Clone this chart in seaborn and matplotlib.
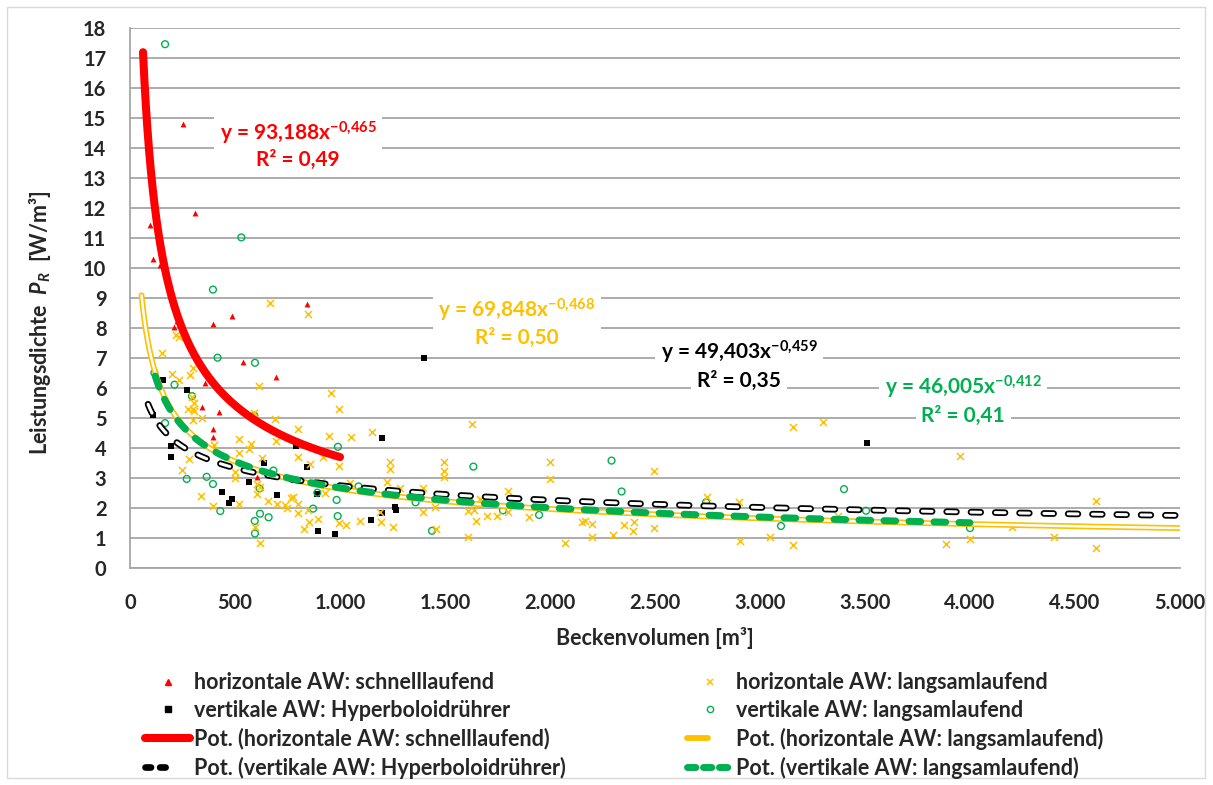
import numpy as np
import matplotlib
matplotlib.use("Agg")
import matplotlib.pyplot as plt
import seaborn as sns
from matplotlib.lines import Line2D
from matplotlib.legend_handler import HandlerTuple
from matplotlib.patches import Rectangle

# ---------------- data ----------------
hs_x = [97, 110, 144, 210, 222, 250, 310, 344, 357, 397, 397, 397, 422, 486, 540, 603, 694, 841]
hs_y = [11.44, 10.29, 10.1, 8.05, 8.24, 14.8, 11.85, 5.38, 6.16, 8.14, 4.63, 4.38, 5.2, 8.39, 6.86, 3.05, 6.37, 8.8]

vh_x = [111, 155, 195, 195, 273, 440, 473, 484, 568, 640, 698, 790, 841, 892, 897, 978, 1146, 1201, 1201, 1263, 1267, 1401, 3508]
vh_y = [5.1, 6.27, 4.07, 3.69, 5.93, 2.52, 2.16, 2.29, 2.86, 3.49, 2.42, 4.07, 3.38, 2.47, 1.22, 1.13, 1.6, 4.32, 1.82, 2.03, 1.93, 7.0, 4.16]

vl_x = [167, 530, 395, 417, 595, 116, 212, 295, 592, 167, 270, 365, 395, 617, 683, 430, 619, 660, 594, 595,
        990, 892, 984, 989, 872, 1088, 1635, 1360, 1438, 1776, 1948, 2293, 2341, 3400, 2743, 3100, 3505, 4000]
vl_y = [17.46, 11.02, 9.28, 7.01, 6.84, 6.51, 6.11, 5.73, 5.08, 4.83, 2.97, 3.04, 2.8, 2.65, 3.25, 1.9, 1.81, 1.69, 1.57, 1.15,
        4.04, 2.51, 2.27, 1.73, 1.98, 2.72, 3.38, 2.19, 1.24, 1.92, 1.77, 3.58, 2.55, 2.63, 2.19, 1.4, 1.91, 1.33]

hl_x = [665, 847, 218, 235, 152, 199, 231, 288, 299, 612, 955, 995, 294, 306, 275, 302, 306, 301, 342, 590,
        690, 802, 948, 1050, 1154, 1627, 695, 520, 575, 568, 519, 401, 281, 248, 336, 394, 518, 500, 501, 630,
        802, 855, 921, 995, 603, 603, 620, 659, 698, 740, 749, 765, 778, 802, 802, 849, 829, 854, 896, 930,
        910, 594, 619, 997, 1028, 1095, 1197, 1250, 1048, 1286, 1190, 1236, 1240, 1225, 1393, 1497, 1497, 1497, 1457, 1397,
        1453, 1611, 1648, 1611, 1640, 1698, 1748, 1667, 1798, 1798, 1899, 2000, 2000, 2070, 2153, 2165, 2198, 2198, 2300, 2352,
        2398, 2397, 2497, 2497, 2746, 2900, 2903, 3047, 3155, 3300, 3156, 3373, 3887, 3950, 4000, 4200, 4400, 4600, 4600]
hl_y = [8.82, 8.46, 7.77, 7.7, 7.18, 6.48, 6.27, 6.43, 6.68, 6.07, 5.82, 5.31, 5.71, 5.51, 5.29, 5.3, 5.23, 4.95, 4.99, 5.17,
        4.96, 4.62, 4.41, 4.37, 4.54, 4.79, 4.24, 4.3, 4.13, 3.97, 3.84, 4.1, 3.63, 3.27, 2.41, 2.07, 2.15, 3.01, 3.21, 3.66,
        3.71, 3.48, 3.71, 3.41, 2.79, 2.48, 2.71, 2.23, 2.14, 2.1, 1.99, 2.35, 2.38, 2.13, 1.82, 1.93, 1.31, 1.54, 1.64, 2.49,
        2.87, 1.38, 0.83, 1.49, 1.43, 1.58, 1.53, 1.36, 2.82, 2.66, 1.88, 3.29, 3.55, 2.88, 2.68, 3.54, 3.22, 3.05, 1.29, 1.86,
        2.02, 1.05, 1.58, 1.91, 1.95, 1.72, 1.72, 2.29, 2.56, 1.86, 1.7, 3.54, 2.96, 0.82, 1.52, 1.56, 1.48, 1.03, 1.1, 1.44,
        1.53, 1.24, 1.33, 3.25, 2.36, 2.19, 0.91, 1.02, 4.7, 4.87, 0.78, 1.74, 0.79, 3.75, 0.98, 1.38, 1.02, 2.25, 0.67]

# power trend lines y = a * x^b as drawn in the reference, with their x range
trend_names = ["hs", "hl", "vh", "vl"]
trend_a = [168.2, 50.1, 19.0, 46.0]
trend_b = [-0.5526, -0.426, -0.28, -0.412]
trend_xmin = [62, 55, 86, 120]
trend_xmax = [1000, 5000, 5000, 4000]

eq_texts = ["y = 93,188x$^{-0{,}465}$", "y = 69,848x$^{-0{,}468}$", "y = 49,403x$^{-0{,}459}$", "y = 46,005x$^{-0{,}412}$"]
r2_texts = ["R² = 0,49", "R² = 0,50", "R² = 0,35", "R² = 0,41"]
eq_pos_x = [800, 1843, 2900, 3967]
eq_pos_y = [14.5, 8.6, 7.2, 6.03]
r2_pos_y = [13.6, 7.67, 6.23, 5.07]

legend_labels = ["horizontale AW: schnelllaufend", "vertikale AW: Hyperboloidrührer",
                 "Pot. (horizontale AW: schnelllaufend)", "Pot. (vertikale AW: Hyperboloidrührer)",
                 "horizontale AW: langsamlaufend", "vertikale AW: langsamlaufend",
                 "Pot. (horizontale AW: langsamlaufend)", "Pot. (vertikale AW: langsamlaufend)"]

x_ticks = [0, 500, 1000, 1500, 2000, 2500, 3000, 3500, 4000, 4500, 5000]
x_tick_labels = ["0", "500", "1.000", "1.500", "2.000", "2.500", "3.000", "3.500", "4.000", "4.500", "5.000"]
y_ticks = list(range(0, 19))

# ---------------- style ----------------
RED = "#FF0000"
YEL = "#FFC000"
BLK = "#000000"
GRN = "#00B050"
GRID = "#A6A6A6"

sns.set_theme(style="white")
FONT = "Lato"
plt.rcParams["font.family"] = [FONT, "DejaVu Sans"]
plt.rcParams["font.weight"] = "bold"
plt.rcParams["mathtext.fontset"] = "custom"
plt.rcParams["mathtext.rm"] = "Lato:bold"
plt.rcParams["mathtext.it"] = "Lato:italic:bold"
plt.rcParams["mathtext.bf"] = "Lato:bold"
plt.rcParams["lines.scale_dashes"] = False
FS = 15.5
FS_TICK = 14.5
FS_EQ = 15

W, H = 1213, 785
fig = plt.figure(figsize=(W / 100, H / 100), dpi=100)
fig.patch.set_facecolor("white")
L, R, T, Bt = 130, 1180, 28, 568
ax = fig.add_axes([L / W, 1 - Bt / H, (R - L) / W, (Bt - T) / H])

# scatter series
sns.scatterplot(x=hs_x, y=hs_y, marker="^", s=18, color=RED, edgecolor=RED, linewidth=0, ax=ax, zorder=3)
sns.scatterplot(x=vh_x, y=vh_y, marker="s", s=16, color=BLK, edgecolor=BLK, linewidth=0, ax=ax, zorder=3)
sns.scatterplot(x=vl_x, y=vl_y, marker="o", s=24, facecolors="none", edgecolor=GRN, linewidth=1.0, ax=ax, zorder=3)
sns.scatterplot(x=hl_x, y=hl_y, marker="x", s=26, color=YEL, linewidth=1.1, ax=ax, zorder=3)

# trend lines
curves = {}
for name, a, b, x0, x1 in zip(trend_names, trend_a, trend_b, trend_xmin, trend_xmax):
    xs = np.geomspace(x0, x1, 400)
    curves[name] = (xs, a * xs ** b)

xs, ys = curves["hl"]
sns.lineplot(x=xs, y=ys, color=YEL, linewidth=4.2, estimator=None, sort=False, ax=ax, zorder=4,
             solid_capstyle="round")
sns.lineplot(x=xs, y=ys, color="white", linewidth=1.8, estimator=None, sort=False, ax=ax, zorder=4,
             solid_capstyle="round")

BDASH = (0, (7.0, 10.5))
xs, ys = curves["vh"]
sns.lineplot(x=xs, y=ys, color=BLK, linewidth=4.8, estimator=None, sort=False, ax=ax, zorder=5,
             linestyle=BDASH, dash_capstyle="round")
sns.lineplot(x=xs, y=ys, color="white", linewidth=2.2, estimator=None, sort=False, ax=ax, zorder=5,
             linestyle=BDASH, dash_capstyle="round")

GDASH = (0, (8.5, 9.5))
xs, ys = curves["vl"]
sns.lineplot(x=xs, y=ys, color=GRN, linewidth=5.0, estimator=None, sort=False, ax=ax, zorder=6,
             linestyle=GDASH, dash_capstyle="round")

xs, ys = curves["hs"]
sns.lineplot(x=xs, y=ys, color=RED, linewidth=5.8, estimator=None, sort=False, ax=ax, zorder=7,
             solid_capstyle="round")

# axes
ax.set_xlim(0, 5000)
ax.set_ylim(0, 18)
ax.set_xticks(x_ticks)
ax.set_xticklabels(x_tick_labels)
ax.set_yticks(y_ticks)
ax.set_yticklabels([str(v) for v in y_ticks])
ax.yaxis.grid(True, color=GRID, linewidth=1.3)
ax.xaxis.grid(False)
ax.set_axisbelow(True)
for side in ["top", "right"]:
    ax.spines[side].set_visible(False)
for side in ["left", "bottom"]:
    ax.spines[side].set_color(GRID)
    ax.spines[side].set_linewidth(1.3)
ax.tick_params(axis="y", direction="out", length=6, width=1.3, color=GRID, pad=11, labelsize=FS_TICK)
ax.tick_params(axis="x", direction="out", length=6, width=1.3, color=GRID, pad=12, labelsize=FS_TICK)
for lab in ax.get_xticklabels() + ax.get_yticklabels():
    lab.set_fontweight("bold")

ax.set_xlabel("Beckenvolumen [m³]", fontsize=FS, fontweight="bold")
ax.xaxis.set_label_coords(0.5, -0.11)
ax.set_ylabel("Leistungsdichte  $P_R$  [W/m³]", fontsize=FS, fontweight="bold")
ax.yaxis.set_label_coords(-0.073, 0.455)

# equations
colors = [RED, YEL, BLK, GRN]
for eq, r2, px, py, ry, c in zip(eq_texts, r2_texts, eq_pos_x, eq_pos_y, r2_pos_y, colors):
    box = dict(facecolor="white", edgecolor="none", pad=4)
    ax.text(px, py, eq, color=c, fontsize=FS_EQ, fontweight="bold", ha="center", va="center",
            zorder=8, bbox=box)
    ax.text(px, ry, r2, color=c, fontsize=FS_EQ, fontweight="bold", ha="center", va="center",
            zorder=8, bbox=box)

# legend
h_hs = Line2D([], [], linestyle="none", marker="^", markersize=4, color=RED)
h_vh = Line2D([], [], linestyle="none", marker="s", markersize=4, color=BLK)
h_hl = Line2D([], [], linestyle="none", marker="x", markersize=5, color=YEL, markeredgewidth=1.1)
h_vl = Line2D([], [], linestyle="none", marker="o", markersize=4.5, markerfacecolor="none",
              markeredgecolor=GRN, markeredgewidth=1.0)
h_hs_l = Line2D([], [], color=RED, linewidth=5.8)
h_vh_l = (Line2D([], [], color=BLK, linewidth=4.8, linestyle=(0, (4.0, 6.5)), dash_capstyle="round"),
          Line2D([], [], color="white", linewidth=2.2, linestyle=(0, (4.0, 6.5)), dash_capstyle="round"))
h_hl_l = (Line2D([], [], color=YEL, linewidth=4.2), Line2D([], [], color="white", linewidth=1.8))
h_vl_l = Line2D([], [], color=GRN, linewidth=5.0, linestyle=(0, (6.0, 5.5)), dash_capstyle="round")

common = dict(frameon=False, handlelength=2.1, handletextpad=0.15, labelspacing=0.32,
              handler_map={tuple: HandlerTuple(ndivide=None)}, loc="upper left",
              prop={"weight": "bold", "size": FS}, borderpad=0.2)
leg1 = fig.legend([h_hs, h_vh, h_hs_l, h_vh_l], legend_labels[:4],
                  bbox_to_anchor=(130 / W, 1 - 657 / H), **common)
leg2 = fig.legend([h_hl, h_vl, h_hl_l, h_vl_l], legend_labels[4:],
                  bbox_to_anchor=(672 / W, 1 - 657 / H), **common)

# chart area border
fig.patches.append(Rectangle((7 / W, 7 / H), (1205 - 7) / W, (778 - 7) / H, transform=fig.transFigure,
                             fill=False, edgecolor="#D9D9D9", linewidth=1.0))

fig.savefig("out.png", dpi=100)
